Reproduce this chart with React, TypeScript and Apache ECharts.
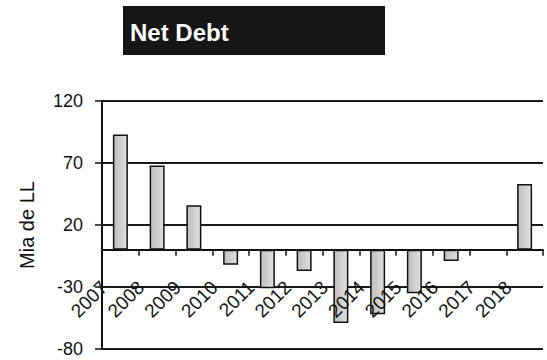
import React, { useEffect, useRef } from "react";
import * as echarts from "echarts";

const years = ["2007", "2008", "2009", "2010", "2011", "2012", "2013", "2014", "2015", "2016", "2017", "2018"];
const netDebt = [93, 68, 36, -12, -31, -17, -59, -52, -35, -9, 0, 53];
const yMin = -80;
const yMax = 120;
const yInterval = 50;
const titleText = "Net Debt";
const yAxisName = "Mia de LL";

const FONT = "'Liberation Sans', Arial, sans-serif";

export default function App() {
  const ref = useRef<HTMLDivElement>(null);
  useEffect(() => {
    if (!ref.current) return;
    const chart = echarts.init(ref.current, undefined, { renderer: "svg" });
    chart.setOption({
      animation: false,
      backgroundColor: "#ffffff",
      graphic: [
        {
          type: "rect",
          shape: { x: 123, y: 6, width: 262, height: 49 },
          style: { fill: "#161616" },
        },
        {
          type: "text",
          x: 130,
          y: 32,
          style: {
            text: titleText,
            fill: "#ffffff",
            font: `bold 24px ${FONT}`,
            verticalAlign: "middle",
            align: "left",
          },
        },
      ],
      grid: { left: 102, right: 4, top: 101, bottom: 11, containLabel: false, outerBoundsMode: "none" },
      xAxis: {
        type: "category",
        data: years,
        axisLine: { show: true, onZero: true, lineStyle: { color: "#111", width: 2 } },
        axisTick: { show: true, length: 6, lineStyle: { color: "#111", width: 1.5 } },
        axisLabel: {
          rotate: 45,
          margin: -81,
          padding: [0, 23, 0, 0],
          color: "#111",
          fontSize: 19,
          fontFamily: FONT,
          interval: 0,
        },
        splitLine: { show: false },
        z: 5,
      },
      yAxis: {
        type: "value",
        min: yMin,
        max: yMax,
        interval: yInterval,
        name: yAxisName,
        nameLocation: "middle",
        nameGap: 65,
        nameRotate: 90,
        nameTextStyle: { color: "#111", fontSize: 20, fontFamily: FONT },
        axisLine: { show: true, lineStyle: { color: "#111", width: 2 } },
        axisTick: { show: true, length: 7, lineStyle: { color: "#111", width: 1.5 } },
        axisLabel: { color: "#111", fontSize: 18, fontFamily: FONT, margin: 19 },
        splitLine: { show: true, lineStyle: { color: "#1a1a1a", width: 2 } },
      },
      series: [
        {
          type: "bar",
          data: netDebt,
          barWidth: 15,
          itemStyle: {
            color: new echarts.graphic.LinearGradient(0, 0, 1, 0, [
              { offset: 0, color: "#bdbdbd" },
              { offset: 1, color: "#e0e0e0" },
            ]),
            borderColor: "#111",
            borderWidth: 1.5,
          },
          z: 3,
        },
      ],
    });
    return () => chart.dispose();
  }, []);
  return (
    <div
      ref={ref}
      style={{ position: "fixed", left: 0, top: 0, width: 547, height: 360 }}
    />
  );
}
